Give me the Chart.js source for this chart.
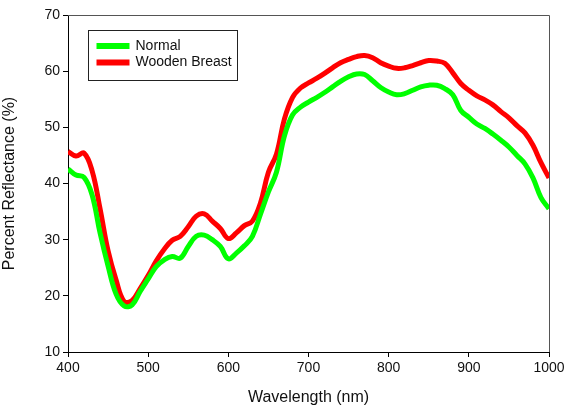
<!DOCTYPE html>
<html>
<head>
<meta charset="utf-8">
<script src="https://cdn.jsdelivr.net/npm/chart.js@4/dist/chart.umd.min.js"></script>
<style>
	html, body { margin: 0; padding: 0; background: #fff; }
	#box { width: 571px; height: 408px; }
</style>
</head>
<body>
<div id="box"><canvas id="plot"></canvas></div>
<script>
const wavelengths = [
	400, 410, 420, 430, 440, 450, 460, 470, 480, 490,
	500, 510, 520, 530, 540, 550, 560, 570, 580, 590,
	600, 610, 620, 630, 640, 650, 660, 670, 680, 690,
	700, 710, 720, 730, 740, 750, 760, 770, 780, 790,
	800, 810, 820, 830, 840, 850, 860, 870, 880, 890,
	900, 910, 920, 930, 940, 950, 960, 970, 980, 990, 1000
];

const normal = [
	42.6, 41.5, 41.1, 38.0, 31.2, 25.3, 20.3, 18.2, 18.4, 20.8,
	23.0, 25.2, 26.4, 27.0, 26.7, 28.8, 30.6, 30.8, 30.0, 28.8,
	26.6, 27.6, 28.9, 30.6, 34.5, 38.5, 42.0, 48.5, 52.2, 53.6,
	54.5, 55.3, 56.2, 57.2, 58.2, 59.0, 59.5, 59.4, 58.3, 57.1,
	56.3, 55.8, 56.0, 56.6, 57.2, 57.5, 57.5, 56.9, 55.8, 53.0,
	51.8, 50.6, 49.8, 48.8, 47.7, 46.5, 45.0, 43.5, 41.0, 37.5, 35.5
];

const wooden = [
	45.7, 44.9, 45.4, 42.3, 35.5, 28.0, 22.8, 19.0, 19.2, 21.3,
	23.6, 26.2, 28.3, 29.9, 30.6, 32.3, 34.2, 34.6, 33.3, 32.0,
	30.2, 31.2, 32.5, 33.3, 36.5, 42.0, 45.2, 51.5, 55.3, 57.0,
	57.9, 58.7, 59.6, 60.6, 61.5, 62.1, 62.6, 62.8, 62.4, 61.5,
	60.9, 60.5, 60.6, 61.0, 61.5, 61.9, 61.8, 61.4, 59.7, 57.8,
	56.6, 55.6, 54.9, 54.0, 52.8, 51.7, 50.3, 49.0, 46.8, 43.7, 41.0
];

const xTicks = [400, 500, 600, 700, 800, 900, 1000];
const yTicks = [10, 20, 30, 40, 50, 60, 70];

const font = 'Liberation Sans, Arial, sans-serif';

function pairs(ys)
{
	return wavelengths.map((x, i) => ({ x: x, y: ys[i] }));
}

// frame (top/right edges) and the boxed legend inside the plot
const framePlugin =
{
	id: 'frame',
	afterDraw(chart)
	{
		const c = chart.ctx;
		const a = chart.chartArea;

		c.save();
		c.strokeStyle = '#555';
		c.lineWidth = 1;
		c.beginPath();
		c.moveTo(a.left, a.top + 0.5);
		c.lineTo(a.right + 0.5, a.top + 0.5);
		c.lineTo(a.right + 0.5, a.bottom);
		c.stroke();

		const bx = a.left + 20.5, by = a.top + 15.5;
		c.strokeStyle = '#222';
		c.strokeRect(bx, by, 149, 50);

		c.font = '14px ' + font;
		c.textBaseline = 'middle';
		chart.data.datasets.forEach(function(ds, i)
		{
			const y = by + 15.5 + i * 16.5;
			c.strokeStyle = ds.borderColor;
			c.lineWidth = 6;
			c.beginPath();
			c.moveTo(bx + 8, y);
			c.lineTo(bx + 41, y);
			c.stroke();
			c.fillStyle = '#111';
			c.fillText(ds.label, bx + 47, y);
		});
		c.restore();
	}
};

const config =
{
	type: 'line',
	data:
	{
		datasets:
		[
			{ label: 'Normal', data: pairs(normal), borderColor: '#00ff00' },
			{ label: 'Wooden Breast', data: pairs(wooden), borderColor: '#ff0000' }
		]
	},
	options:
	{
		responsive: true,
		maintainAspectRatio: false,
		animation: false,
		layout: { padding: { left: 0, right: 22, top: 15, bottom: 0 } },
		elements:
		{
			point: { radius: 0 },
			line: { borderWidth: 5, tension: 0.4, fill: false, capBezierPoints: true }
		},
		plugins:
		{
			legend: { display: false },
			tooltip: { enabled: false }
		},
		scales:
		{
			x:
			{
				type: 'linear',
				min: 400,
				max: 1000,
				afterBuildTicks(s) { s.ticks = xTicks.map(v => ({ value: v })); },
				afterFit(s) { s.height = 56; },
				border: { color: '#000', width: 1 },
				grid: { drawOnChartArea: false, drawTicks: true, tickLength: 5, tickColor: '#000' },
				ticks: { color: '#111', font: { family: font, size: 14 }, padding: 3, maxRotation: 0, callback: v => String(v) },
				title: { display: true, text: 'Wavelength (nm)', color: '#111', font: { family: font, size: 16 }, padding: { top: 0, bottom: 1 } }
			},
			y:
			{
				min: 10,
				max: 70,
				afterBuildTicks(s) { s.ticks = yTicks.map(v => ({ value: v })); },
				afterFit(s) { s.width = 68; },
				border: { color: '#000', width: 1 },
				grid: { drawOnChartArea: false, drawTicks: true, tickLength: 5, tickColor: '#000' },
				ticks: { color: '#111', font: { family: font, size: 14 }, padding: 3, callback: v => String(v) },
				title: { display: true, text: 'Percent Reflectance (%)', color: '#111', font: { family: font, size: 16 }, padding: { top: 0, bottom: 12 } }
			}
		}
	},
	plugins: [framePlugin]
};

new Chart(document.getElementById('plot').getContext('2d'), config);
</script>
</body>
</html>
